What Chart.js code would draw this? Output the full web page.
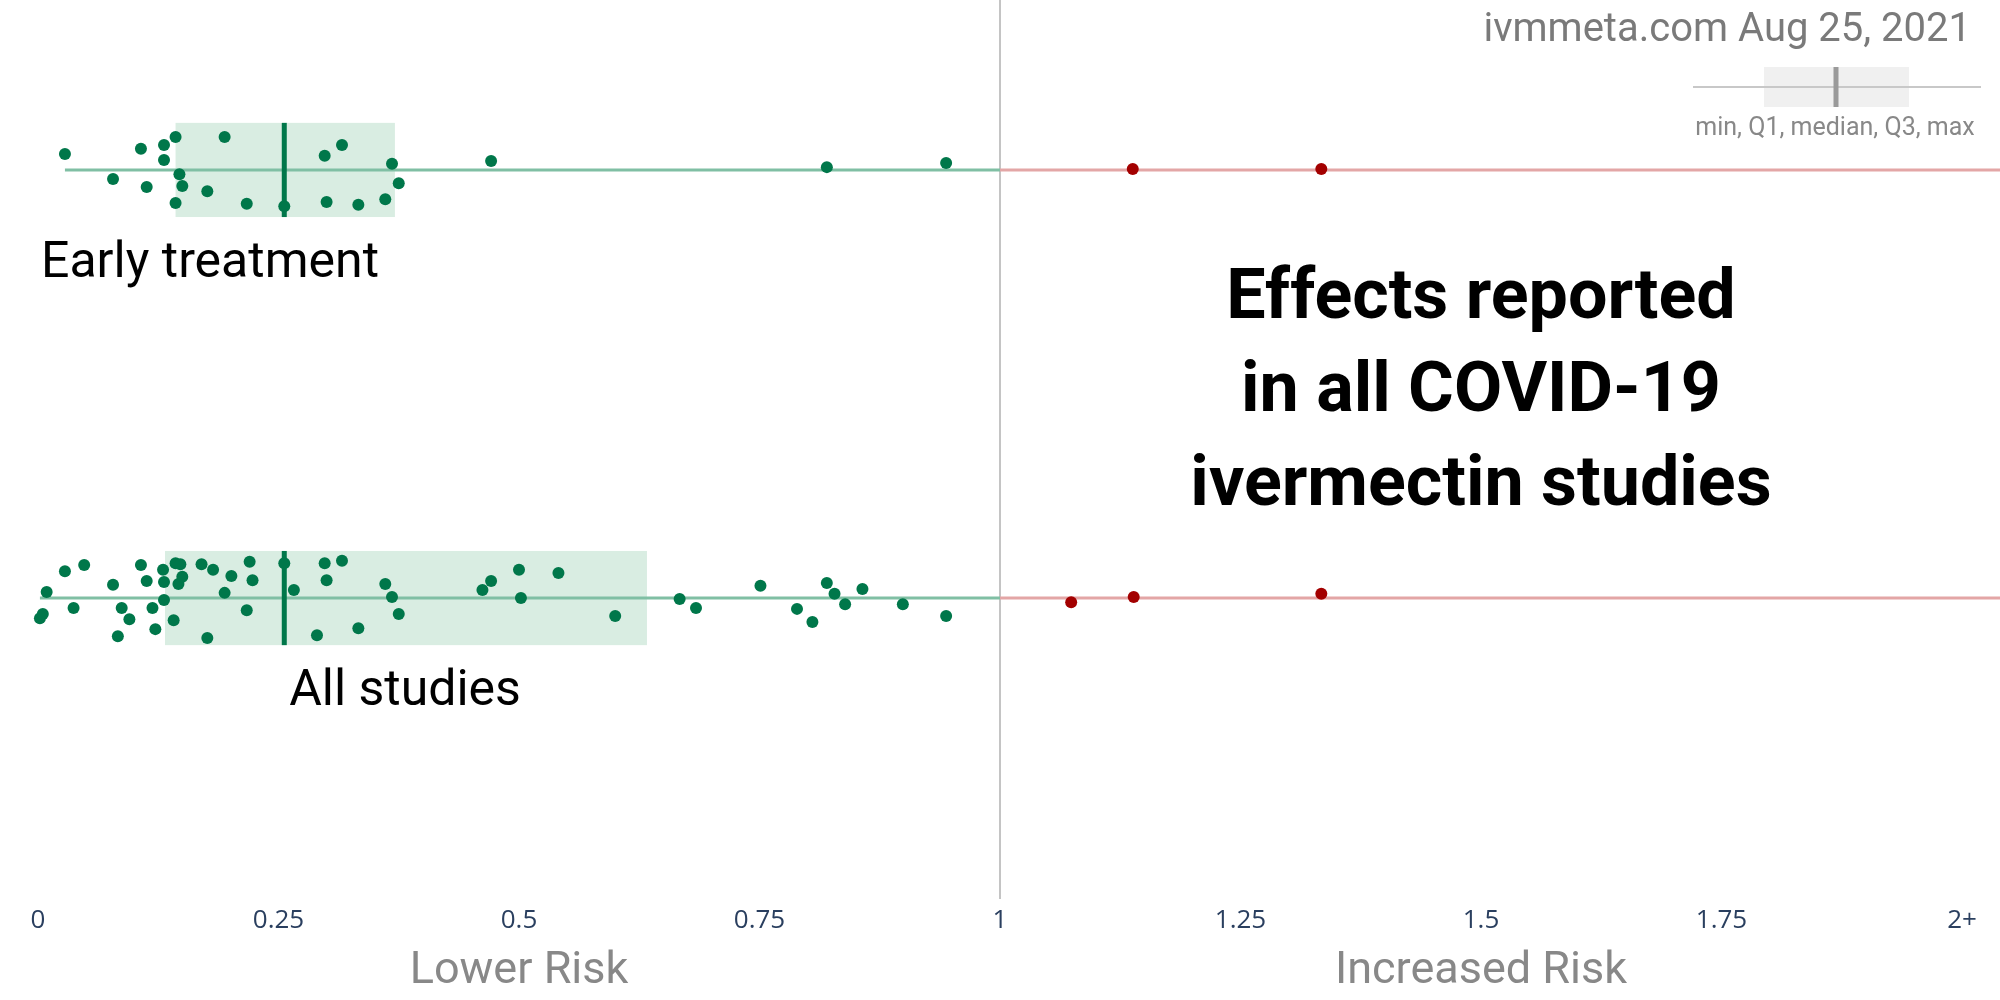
<!DOCTYPE html>
<html>
<head>
<meta charset="utf-8">
<script src="https://cdn.jsdelivr.net/npm/chart.js@4.4.1/dist/chart.umd.min.js"></script>
<style>
  html, body { margin: 0; padding: 0; background: #fff; }
  canvas { display: block; }
</style>
</head>
<body>
<canvas id="effectsChart" width="2000" height="1000"></canvas>
<script>
// tick marks on the relative risk axis
const tickValues = [0, 0.25, 0.5, 0.75, 1, 1.25, 1.5, 1.75, 2];
const tickLabels = ['0', '0.25', '0.5', '0.75', '1', '1.25', '1.5', '1.75', '2+'];

// rows: 1 = early treatment, 0 = all studies
const rowNames = ['All studies', 'Early treatment'];

// early treatment studies (relative risk) and their vertical jitter
const earlyLower = [0.028, 0.078, 0.107, 0.113, 0.131, 0.131, 0.143, 0.147, 0.150, 0.143, 0.176, 0.194,
  0.217, 0.256, 0.298, 0.316, 0.300, 0.333, 0.361, 0.368, 0.375, 0.471, 0.820, 0.944];
const earlyLowerJitter = [0.34, -0.19, 0.45, -0.36, 0.53, 0.21, 0.70, -0.09, -0.34, -0.70, -0.45, 0.70,
  -0.72, -0.77, 0.30, 0.53, -0.68, -0.74, -0.62, 0.13, -0.28, 0.19, 0.06, 0.15];
const earlyHigher = [1.138, 1.334];
const earlyHigherJitter = [0.02, 0.02];
const earlyBox = [0.143, 0.256, 0.371]; // Q1, median, Q3

// all studies
const allLower = [0.002, 0.005, 0.009, 0.028, 0.037, 0.048, 0.078, 0.083, 0.087, 0.095, 0.107, 0.113,
  0.119, 0.122, 0.130, 0.131, 0.131, 0.141, 0.143, 0.148, 0.146, 0.150, 0.170, 0.176, 0.182, 0.194,
  0.201, 0.217, 0.220, 0.223, 0.256, 0.266, 0.290, 0.298, 0.300, 0.316, 0.333, 0.361, 0.368, 0.375,
  0.462, 0.471, 0.500, 0.502, 0.541, 0.600, 0.667, 0.684, 0.751, 0.789, 0.805, 0.820, 0.828, 0.839,
  0.857, 0.899, 0.944];
const allLowerJitter = [-0.43, -0.34, 0.13, 0.57, -0.21, 0.70, 0.28, -0.81, -0.21, -0.45, 0.70, 0.36,
  -0.21, -0.66, 0.60, -0.04, 0.34, -0.47, 0.74, 0.72, 0.30, 0.45, 0.72, -0.85, 0.60, 0.11,
  0.47, -0.26, 0.77, 0.38, 0.74, 0.17, -0.79, 0.74, 0.38, 0.79, -0.64, 0.30, 0.02, -0.34,
  0.17, 0.36, 0.60, 0.00, 0.53, -0.38, -0.02, -0.21, 0.26, -0.23, -0.51, 0.32, 0.09, -0.13,
  0.19, -0.13, -0.38];
const allHigher = [1.074, 1.139, 1.334];
const allHigherJitter = [-0.09, 0.02, 0.09];
const allBox = [0.132, 0.256, 0.633];

const BOX_HALF = 0.11;   // half height of a box, in row units
const X_MIN = -0.0395, X_MAX = 2.0395;
const Y_MIN = -0.703, Y_MAX = 1.397;

const GREEN = '#00774a';
const RED = '#a30000';

function toPoints(xs, jitter, row) {
    return xs.map((x, i) => ({ x: x, y: row + jitter[i] * BOX_HALF }));
}

const rows = [
    { row: 1, box: earlyBox, min: Math.min(...earlyLower) },
    { row: 0, box: allBox, min: Math.min(...allLower) }
];

const boxPlugin = {
    id: 'boxes',
    beforeDatasetsDraw(chart) {
        const { ctx, chartArea, scales: { x, y } } = chart;
        ctx.save();
        // line of no effect
        ctx.strokeStyle = '#c4c4c4';
        ctx.lineWidth = 2;
        ctx.beginPath();
        ctx.moveTo(x.getPixelForValue(1), chartArea.top);
        ctx.lineTo(x.getPixelForValue(1), chartArea.bottom);
        ctx.stroke();

        rows.forEach(r => {
            const yc = y.getPixelForValue(r.row);
            const yTop = y.getPixelForValue(r.row + BOX_HALF);
            const yBot = y.getPixelForValue(r.row - BOX_HALF);
            const q1 = x.getPixelForValue(r.box[0]);
            const med = x.getPixelForValue(r.box[1]);
            const q3 = x.getPixelForValue(r.box[2]);
            ctx.fillStyle = '#d9ede2';
            ctx.fillRect(q1, yTop, q3 - q1, yBot - yTop);

            ctx.lineWidth = 3;
            ctx.strokeStyle = '#80bfa4';
            ctx.beginPath();
            ctx.moveTo(x.getPixelForValue(r.min), yc);
            ctx.lineTo(x.getPixelForValue(1), yc);
            ctx.stroke();
            ctx.strokeStyle = '#e3a6a6';
            ctx.beginPath();
            ctx.moveTo(x.getPixelForValue(1), yc);
            ctx.lineTo(chartArea.right, yc);
            ctx.stroke();

            ctx.strokeStyle = GREEN;
            ctx.lineWidth = 5;
            ctx.beginPath();
            ctx.moveTo(med, yTop);
            ctx.lineTo(med, yBot);
            ctx.stroke();
        });
        ctx.restore();
    },
    afterDraw(chart) {
        const { ctx, scales: { x } } = chart;
        ctx.save();
        ctx.textAlign = 'center';
        ctx.textBaseline = 'alphabetic';

        // row labels
        ctx.fillStyle = '#000';
        ctx.font = '50px Roboto';
        ctx.fillText(rowNames[1], 210, 277);
        ctx.fillText(rowNames[0], 405, 705);

        // title
        ctx.font = 'bold 70px Roboto';
        ctx.fillText('Effects reported', 1481, 318);
        ctx.fillText('in all COVID-19', 1481, 411);
        ctx.fillText('ivermectin studies', 1481, 505);

        // risk labels
        ctx.fillStyle = '#888';
        ctx.font = '45px Roboto';
        ctx.fillText('Lower Risk', x.getPixelForValue(0.5), 983);
        ctx.fillText('Increased Risk', x.getPixelForValue(1.5), 983);

        // source
        ctx.textAlign = 'right';
        ctx.fillStyle = '#7a7a7a';
        ctx.font = '40px Roboto';
        ctx.fillText('ivmmeta.com Aug 25, 2021', 1971, 41);

        // mini legend
        ctx.fillStyle = '#f0f0f0';
        ctx.fillRect(1764, 67, 145, 40);
        ctx.strokeStyle = '#c8c8c8';
        ctx.lineWidth = 2;
        ctx.beginPath();
        ctx.moveTo(1693, 87);
        ctx.lineTo(1981, 87);
        ctx.stroke();
        ctx.strokeStyle = '#9a9a9a';
        ctx.lineWidth = 5;
        ctx.beginPath();
        ctx.moveTo(1836, 67);
        ctx.lineTo(1836, 107);
        ctx.stroke();
        ctx.textAlign = 'center';
        ctx.fillStyle = '#888';
        ctx.font = '25px Roboto';
        ctx.fillText('min, Q1, median, Q3, max', 1835, 135);
        ctx.restore();
    }
};

function dotSet(data, color) {
    return {
        data: data,
        backgroundColor: color,
        borderWidth: 0,
        pointRadius: 6,
        pointHoverRadius: 6
    };
}

function initChart() {
    const ctx = document.getElementById('effectsChart');
    new Chart(ctx, {
        type: 'scatter',
        data: {
            datasets: [
                dotSet(toPoints(earlyLower, earlyLowerJitter, 1), GREEN),
                dotSet(toPoints(earlyHigher, earlyHigherJitter, 1), RED),
                dotSet(toPoints(allLower, allLowerJitter, 0), GREEN),
                dotSet(toPoints(allHigher, allHigherJitter, 0), RED)
            ]
        },
        options: {
            responsive: false,
            animation: false,
            devicePixelRatio: 1,
            layout: { padding: 0, autoPadding: false },
            plugins: { legend: { display: false }, tooltip: { enabled: false } },
            scales: {
                x: {
                    type: 'linear',
                    min: X_MIN,
                    max: X_MAX,
                    afterBuildTicks: s => { s.ticks = tickValues.map(v => ({ value: v })); },
                    afterFit: s => { s.height = 101; },
                    grid: { display: false, drawTicks: false },
                    border: { display: false },
                    ticks: {
                        autoSkip: false,
                        maxRotation: 0,
                        padding: 6,
                        color: '#2a3f5f',
                        font: { family: '"Open Sans"', size: 26 },
                        callback: (v, i) => tickLabels[i]
                    }
                },
                y: { display: false, min: Y_MIN, max: Y_MAX }
            }
        },
        plugins: [boxPlugin]
    });
}

Promise.all([
    document.fonts.load('50px Roboto'),
    document.fonts.load('bold 70px Roboto'),
    document.fonts.load('26px "Open Sans"')
]).then(initChart, initChart);
</script>
</body>
</html>
